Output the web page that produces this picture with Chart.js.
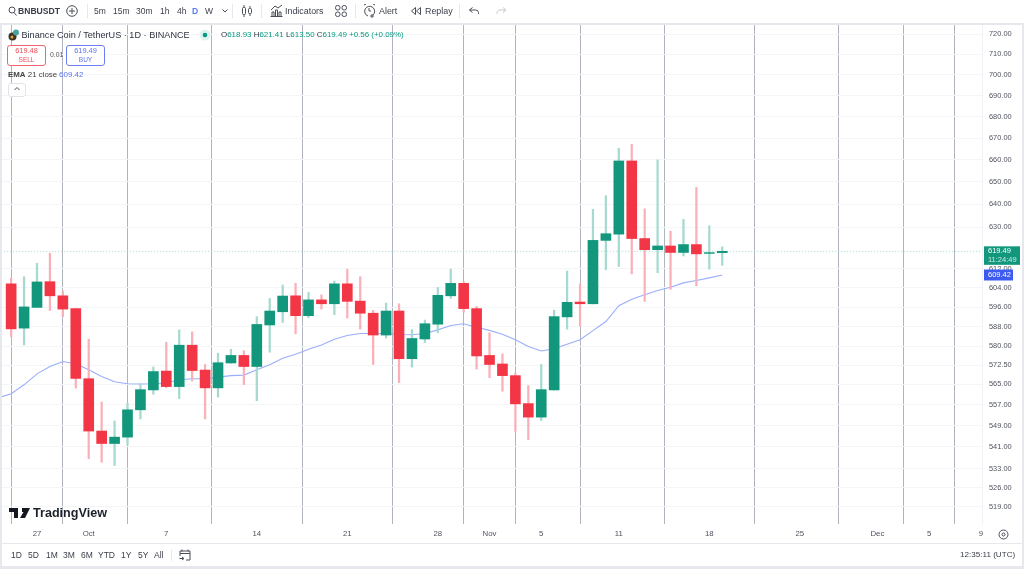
<!DOCTYPE html>
<html>
<head>
<meta charset="utf-8">
<title>BNBUSDT</title>
<script src="https://cdn.jsdelivr.net/npm/chart.js@4/dist/chart.umd.min.js"></script>
<style>
html,body{margin:0;padding:0;background:#fff;overflow:hidden}
body{width:1024px;height:569px;position:relative;font-family:"Liberation Sans",Arial,sans-serif;color:#3a3e49}
canvas{position:absolute;left:0;top:0}
.t{position:absolute;white-space:nowrap;line-height:12px;font-size:8.5px}
.b{position:absolute;background:#e6e8ee}
.box{position:absolute;box-sizing:border-box;border-radius:3px;background:#fff}
svg{position:absolute;fill:none;stroke:#4a4e59;stroke-width:1}
</style>
</head>
<body>
<canvas id="chart" width="1024" height="569"></canvas>

<!-- frame -->
<div class="b" style="left:0;top:23px;width:1024px;height:2px"></div>
<div class="b" style="left:0;top:23px;width:2px;height:546px"></div>
<div class="b" style="left:1022px;top:23px;width:2px;height:546px"></div>
<div class="b" style="left:0;top:566px;width:1024px;height:3px"></div>
<div class="b" style="left:2px;top:543px;width:1020px;height:1px"></div>
<div class="b" style="left:982px;top:25px;width:1px;height:500px;background:#eff1f5"></div>

<!-- top toolbar -->
<svg style="left:8px;top:6px" width="9" height="10"><circle cx="4" cy="4" r="3"/><path d="M6 6.5l2.5 3"/></svg>
<span class="t" style="left:18px;top:5px;font-size:8.6px;font-weight:bold;color:#3a3e49">BNBUSDT</span>
<svg style="left:66px;top:5px" width="12" height="12"><circle cx="6" cy="6" r="5.3"/><path d="M6 3v6M3 6h6"/></svg>
<div class="b" style="left:87px;top:4px;width:1px;height:14px"></div>
<span class="t" style="left:94px;top:5px">5m</span>
<span class="t" style="left:113px;top:5px">15m</span>
<span class="t" style="left:136px;top:5px">30m</span>
<span class="t" style="left:160px;top:5px">1h</span>
<span class="t" style="left:177px;top:5px">4h</span>
<span class="t" style="left:192px;top:5px;color:#5b7cf7;font-weight:bold">D</span>
<span class="t" style="left:205px;top:5px">W</span>
<svg style="left:222px;top:9px" width="6" height="4"><path d="M.5 .5l2.5 2.5 2.5-2.5"/></svg>
<div class="b" style="left:232px;top:4px;width:1px;height:14px"></div>
<svg style="left:242px;top:5px" width="11" height="12"><rect x=".5" y="2.5" width="3" height="7" rx="1"/><rect x="6.5" y="3.5" width="3" height="5" rx="1"/><path d="M2 0v2.5M2 9.5v2.5M8 1v2.5M8 8.5v2.5"/></svg>
<div class="b" style="left:261px;top:4px;width:1px;height:14px"></div>
<svg style="left:270px;top:4px" width="13" height="13"><path d="M.5 12.5h12M2 12V8h2v4M5.5 12V6h2v6M9 12V8h2v4M1 6l4-4 3 2 4-3"/></svg>
<span class="t" style="left:285px;top:5px;font-size:8.9px">Indicators</span>
<svg style="left:335px;top:5px" width="12" height="12"><rect x=".5" y=".5" width="4.5" height="4.5" rx="2"/><rect x="7" y=".5" width="4.5" height="4.5" rx="2"/><rect x=".5" y="7" width="4.5" height="4.5" rx="2"/><rect x="7" y="7" width="4.5" height="4.5" rx="2"/></svg>
<div class="b" style="left:355px;top:4px;width:1px;height:14px"></div>
<svg style="left:363px;top:4px" width="13" height="14"><path d="M1 1L3 0M10 0l2 1M10 11a5 5 0 1 0-5 1M6 4v3h2M9 10v4M7 12h4"/></svg>
<span class="t" style="left:379px;top:5px;font-size:8.9px">Alert</span>
<svg style="left:411px;top:7px" width="10" height="8"><path d="M4.5 .5L.5 4l4 3.5zM9.5 .5L5.5 4l4 3.5z"/></svg>
<span class="t" style="left:425px;top:5px;font-size:8.9px">Replay</span>
<div class="b" style="left:459px;top:4px;width:1px;height:14px"></div>
<svg style="left:469px;top:7px" width="11" height="8"><path d="M3.5 .5L.5 3l3 2.5M.5 3h6a3.5 3.5 0 0 1 3 4"/></svg>
<svg style="left:496px;top:7px;stroke:#c5c8d0" width="11" height="8"><path d="M7 .5L10 3l-3 2.5M10 3H4a3.5 3.5 0 0 0-3 4"/></svg>

<!-- legend -->
<svg style="left:8px;top:29px;stroke:none" width="12" height="12"><circle cx="4.5" cy="7.5" r="4" fill="#3b3223"/><circle cx="8" cy="3.5" r="3" fill="#4aa3a0"/><circle cx="4" cy="8" r="1.5" fill="#d9a441"/></svg>
<span class="t" style="left:21.5px;top:29px;font-size:9.15px;color:#30343f">Binance Coin / TetherUS · 1D · BINANCE</span>
<svg style="left:199px;top:29px;stroke:none" width="12" height="12"><circle cx="6" cy="6" r="5.5" fill="#dff2ee"/><circle cx="6" cy="6" r="2.3" fill="#089981"/></svg>
<span class="t" style="left:221px;top:29px;font-size:7.95px;color:#089981"><span style="color:#30343f">O</span>618.93 <span style="color:#30343f">H</span>621.41 <span style="color:#30343f">L</span>613.50 <span style="color:#30343f">C</span>619.49 +0.56 (+0.09%)</span>

<div class="box" style="left:7px;top:45px;width:39px;height:21px;border:1px solid #f0646f"></div>
<span class="t" style="left:7px;width:39px;text-align:center;top:45px;font-size:7.4px;color:#ef4b57">619.48</span>
<span class="t" style="left:7px;width:39px;text-align:center;top:54px;font-size:6.5px;color:#ef4b57">SELL</span>
<span class="t" style="left:50px;top:49px;font-size:6.8px;color:#555">0.01</span>
<div class="box" style="left:66px;top:45px;width:39px;height:21px;border:1px solid #6d7ff5"></div>
<span class="t" style="left:66px;width:39px;text-align:center;top:45px;font-size:7.4px;color:#5b74f2">619.49</span>
<span class="t" style="left:66px;width:39px;text-align:center;top:54px;font-size:6.5px;color:#5b74f2">BUY</span>
<span class="t" style="left:8px;top:69px;font-size:7.9px;color:#444"><span style="font-weight:bold">EMA</span> 21 close</span>
<span class="t" style="left:59px;top:69px;font-size:8px;color:#5b74f2">609.42</span>
<div class="box" style="left:8px;top:83px;width:18px;height:14px;border:1px solid #e0e3eb"></div>
<svg style="left:14px;top:87px" width="6" height="4"><path d="M.5 3l2.5-2.5 2.5 2.5"/></svg>

<!-- logo -->
<svg style="left:9px;top:508px;stroke:none;fill:#131722" width="22" height="11"><path d="M0 0h9v10H5V4H0zM13 0h8l-5 10h-5l3.5-6h-1.5z"/></svg>
<span class="t" style="left:33px;top:506px;font-size:12.6px;line-height:14px;font-weight:bold;color:#1c202b">TradingView</span>

<!-- bottom bar -->
<span class="t" style="left:11px;top:549px">1D</span>
<span class="t" style="left:28px;top:549px">5D</span>
<span class="t" style="left:46px;top:549px">1M</span>
<span class="t" style="left:63px;top:549px">3M</span>
<span class="t" style="left:81px;top:549px">6M</span>
<span class="t" style="left:98px;top:549px">YTD</span>
<span class="t" style="left:121px;top:549px">1Y</span>
<span class="t" style="left:138px;top:549px">5Y</span>
<span class="t" style="left:154px;top:549px">All</span>
<div class="b" style="left:171px;top:550px;width:1px;height:11px"></div>
<svg style="left:179px;top:549px" width="12" height="12"><path d="M1 7V2h10v9H7M1 4.5h10M3 .5v2M9 .5v2M.5 9.5h4M3 8l2 1.5-2 1.5"/></svg>
<span class="t" style="left:960px;top:549px;font-size:8.1px">12:35:11 (UTC)</span>
<svg style="left:997px;top:528px" width="13" height="13"><circle cx="6.5" cy="6.5" r="4.5"/><circle cx="6.5" cy="6.5" r="1.5"/></svg>

<script>
// one entry per daily candle starting at Sep 25
const opens = [605.7,587.4,595.9,606.6,600.7,595.4,567.2,547.0,542.3,544.7,555.1,562.8,570.2,564.1,580.5,570.6,563.6,573.4,576.4,572.0,
    588.7,594.1,600.7,592.5,599.0,597.4,605.7,598.5,593.5,584.6,594.4,575.1,583.0,589.0,600.7,605.9,595.4,576.4,573.0,568.4,
    557.5,552.3,562.8,592.0,598.1,597.4,624.2,626.9,659.5,625.0,620.2,621.8,619.0,622.4,618.6,618.93];
const highs = [608.1,608.7,614.4,618.7,602.7,595.5,582.9,558.1,550.8,557.6,565.2,571.8,581.7,586.7,585.9,572.8,577.3,578.9,578.3,592.1,
    599.6,605.2,605.9,602.1,601.1,606.9,611.9,608.7,594.7,597.7,597.4,586.8,590.7,604.2,611.9,606.6,596.3,585.5,577.0,569.4,
    564.5,572.8,594.8,611.1,605.7,637.8,643.8,665.3,667.1,638.0,660.0,628.2,633.4,647.5,630.6,621.41];
const lows = [584.0,580.6,595.8,594.6,592.1,563.5,536.6,535.3,534.1,541.7,551.6,561.1,563.6,559.4,566.3,551.6,560.0,573.3,564.9,558.6,
    577.7,589.7,585.1,591.7,595.2,592.9,591.5,587.0,572.8,583.4,565.7,571.8,581.6,585.6,599.6,593.9,571.0,567.6,562.3,546.9,
    543.7,551.0,562.7,587.0,588.1,597.3,611.6,613.0,609.9,598.4,610.4,603.4,617.5,604.9,611.9,613.50];
const closes = [587.1,596.1,606.5,600.7,595.2,567.3,547.0,542.3,544.7,555.1,562.9,570.0,564.1,580.5,570.4,563.6,573.5,576.4,572.0,588.9,
    594.4,600.6,592.5,599.0,597.4,605.7,598.4,593.5,584.6,594.4,575.1,583.2,589.2,600.9,605.9,595.4,576.2,572.8,568.4,557.4,
    552.3,562.9,592.1,598.0,597.4,624.2,627.1,659.5,625.0,620.2,621.8,619.0,622.4,618.4,618.93,619.49];
// ema has one extra value in front, it sits just left of the visible area
const ema = [559.7,561.3,564.8,569.1,572.0,574.0,573.1,570.7,568.1,566.0,565.2,565.1,565.2,565.5,566.8,567.2,567.2,567.8,568.4,568.6,570.7,
    572.7,575.3,576.9,578.9,580.6,582.9,584.4,585.2,585.2,585.2,584.8,584.7,585.2,586.7,588.5,589.2,587.8,586.5,584.9,582.7,
    580.0,578.2,579.1,580.9,582.7,586.4,590.1,596.6,599.3,601.1,602.9,604.3,606.1,607.1,608.2,609.42];
const lastPrice = 619.49;
const countdown = '11:24:49';
const emaLast = 609.42;

const priceTicks = [720,710,700,690,680,670,660,650,640,630,612,604,596,588,580,572.5,565,557,549,541,533,526,519];
const dayTicks = [2,6,12,19,26,33,37,41,47,54,61,67,71,75];
const dayLabels = ['27','Oct','7','14','21','28','Nov','5','11','18','25','Dec','5','9'];

const upColor = '#12977d', downColor = '#f23645';
const upWick = '#a6d9cf', downWick = '#fab0b8';
const isUp = opens.map((o, i) => closes[i] >= o);

// price tags on the right axis
const priceTags = {
    id: 'priceTags',
    afterDraw(chart) {
        const ctx = chart.ctx;
        const y = chart.scales.y;
        const x0 = 984;
        const yLast = y.getPixelForValue(lastPrice);
        ctx.save();
        ctx.textBaseline = 'middle';
        ctx.fillStyle = upColor;
        ctx.fillRect(x0, yLast - 5, 36, 18.5);
        ctx.fillStyle = '#fff';
        ctx.font = '7.5px "Liberation Sans", Arial';
        ctx.fillText(lastPrice.toFixed(2), x0 + 4, yLast);
        ctx.fillStyle = '#c9ebe3';
        ctx.fillText(countdown, x0 + 4, yLast + 8.5);
        const yEma = y.getPixelForValue(emaLast);
        ctx.fillStyle = '#3d5af1';
        ctx.fillRect(x0, yEma - 5.5, 29, 11);
        ctx.fillStyle = '#fff';
        ctx.fillText(emaLast.toFixed(2), x0 + 4, yEma);
        ctx.restore();
    }
};

new Chart(document.getElementById('chart'), {
    type: 'bar',
    data: {
        datasets: [
            {
                label: 'Body',
                order: 1,
                grouped: false,
                barThickness: 10,
                data: opens.map((o, i) => ({ x: i, y: [o, closes[i]] })),
                backgroundColor: isUp.map(u => u ? upColor : downColor)
            },
            {
                label: 'Wick',
                order: 2,
                grouped: false,
                barThickness: 1.6,
                data: lows.map((l, i) => ({ x: i, y: [l, highs[i]] })),
                backgroundColor: isUp.map(u => u ? upWick : downWick)
            },
            {
                type: 'line',
                label: 'EMA 21',
                order: 3,
                data: ema.map((v, i) => ({ x: i - 1, y: v })),
                borderColor: '#9aaefc',
                borderWidth: 1.1,
                pointRadius: 0
            },
            {
                type: 'line',
                label: 'Last',
                order: 4,
                data: [{ x: -1, y: lastPrice }, { x: 76, y: lastPrice }],
                borderColor: '#9fd8cc',
                borderWidth: 1,
                borderDash: [1, 2],
                pointRadius: 0
            }
        ]
    },
    options: {
        responsive: false,
        animation: false,
        layout: { padding: { left: 2, right: 2, top: 25, bottom: 26 } },
        plugins: { legend: { display: false }, tooltip: { enabled: false } },
        scales: {
            x: {
                type: 'linear',
                min: -0.707,
                max: 75.09,
                offset: false,
                afterBuildTicks: (s) => { s.ticks = dayTicks.map(v => ({ value: v })); },
                afterFit: (s) => { s.height = 19; },
                grid: { color: '#b0b4bc', drawTicks: false },
                border: { display: false },
                ticks: {
                    autoSkip: false,
                    maxRotation: 0,
                    padding: 5,
                    color: '#50535e',
                    font: { family: '"Liberation Sans", Arial', size: 7.8 },
                    callback: (v, i) => dayLabels[i]
                }
            },
            y: {
                type: 'logarithmic',
                position: 'right',
                min: 512.9,
                max: 724.6,
                afterBuildTicks: (s) => { s.ticks = priceTicks.map(v => ({ value: v })); },
                afterFit: (s) => { s.width = 40; },
                grid: { color: '#f4f5f8', drawTicks: false },
                border: { display: false },
                ticks: {
                    autoSkip: false,
                    padding: 7,
                    color: '#50535e',
                    font: { family: '"Liberation Sans", Arial', size: 7.4 },
                    callback: (v) => Number(v).toFixed(2)
                }
            }
        }
    },
    plugins: [priceTags]
});
</script>
</body>
</html>
